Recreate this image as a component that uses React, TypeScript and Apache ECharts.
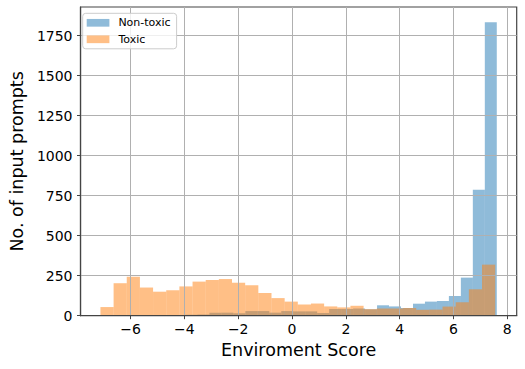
import React, { useEffect, useRef } from "react";
import * as echarts from "echarts";

// Histogram bins (equal-width)
const nonToxicStart = -5.74;
const nonToxicWidth = 0.445;
const nonToxicCounts = [
  2, 1, 2, 3, 6, 7, 18, 19, 15, 29, 29, 19, 29, 27, 27, 17, 42, 42, 45, 40,
  65, 58, 48, 75, 88, 92, 123, 238, 787, 1834,
];

const toxicStart = -7.12;
const toxicWidth = 0.489;
const toxicCounts = [
  54, 203, 244, 176, 150, 159, 183, 213, 223, 229, 206, 190, 142, 110, 88, 70,
  76, 58, 52, 62, 41, 45, 45, 48, 37, 38, 57, 84, 165, 319,
];

const xTicks = [-6, -4, -2, 0, 2, 4, 6, 8];
const yTicks = [0, 250, 500, 750, 1000, 1250, 1500, 1750];
const seriesNames = ["Non-toxic", "Toxic"];
const xLabel = "Enviroment Score";
const yLabel = "No. of input prompts";

function toBins(start: number, width: number, counts: number[]) {
  return counts.map((c, i) => [start + i * width, start + (i + 1) * width, c]);
}

const FONT = "DejaVu Sans";

export default function App() {
  const ref = useRef<HTMLDivElement>(null);
  useEffect(() => {
    if (!ref.current) return;
    const chart = echarts.init(ref.current, undefined, { renderer: "svg" });
    const renderItem = (params: any, api: any) => {
      const p0 = api.coord([api.value(0), api.value(2)]);
      const p1 = api.coord([api.value(1), 0]);
      return {
        type: "rect",
        shape: { x: p0[0], y: p0[1], width: p1[0] - p0[0], height: p1[1] - p0[1] },
        style: { fill: api.visual("color") },
      };
    };
    chart.setOption({
      animation: false,
      textStyle: { fontFamily: FONT },
      grid: {
        left: 76.7,
        right: 8.3,
        top: 7,
        bottom: 53.3,
        show: true,
        borderColor: "#444",
        borderWidth: 1.2,
        backgroundColor: "transparent",
      },
      legend: {
        orient: "vertical",
        left: 82.7,
        top: 13.3,
        data: seriesNames,
        icon: "rect",
        itemWidth: 22.7,
        itemHeight: 7.7,
        itemGap: 5.5,
        padding: [4, 6, 4, 4],
        backgroundColor: "rgba(255,255,255,0.8)",
        borderColor: "#cccccc",
        borderWidth: 1,
        borderRadius: 3,
        textStyle: { fontFamily: FONT, fontSize: 11, color: "#000", padding: [0, 0, 0, 4] },
      },
      xAxis: {
        type: "value",
        min: -7.86,
        max: 8.35,
        name: xLabel,
        nameLocation: "middle",
        nameGap: 25,
        nameTextStyle: { fontFamily: FONT, fontSize: 17.5, color: "#000" },
        axisLine: { show: true, onZero: false, lineStyle: { color: "#444", width: 1.2 } },
        axisTick: { show: true, customValues: xTicks, length: 3.5, lineStyle: { color: "#444" } },
        axisLabel: {
          customValues: xTicks,
          fontFamily: FONT,
          fontSize: 14,
          color: "#000",
          margin: 6,
          formatter: (v: number) => (v < 0 ? "\u2212" + Math.abs(v) : String(v)),
        },
        splitLine: { show: true, lineStyle: { color: "#b0b0b0", width: 1 } },
      },
      yAxis: {
        type: "value",
        min: 0,
        max: 1929,
        name: yLabel,
        nameLocation: "middle",
        nameGap: 53,
        nameTextStyle: { fontFamily: FONT, fontSize: 17.5, color: "#000" },
        axisLine: { show: true, onZero: false, lineStyle: { color: "#444", width: 1.2 } },
        axisTick: { show: true, customValues: yTicks, length: 3.5, lineStyle: { color: "#444" } },
        axisLabel: {
          customValues: yTicks,
          fontFamily: FONT,
          fontSize: 14,
          color: "#000",
          margin: 8,
          formatter: (v: number) => String(v),
        },
        splitLine: { show: true, lineStyle: { color: "#b0b0b0", width: 1 } },
      },
      series: [
        {
          name: seriesNames[0],
          type: "custom",
          z: -1,
          renderItem,
          itemStyle: { color: "rgba(31,119,180,0.5)" },
          encode: { x: [0, 1], y: 2 },
          data: toBins(nonToxicStart, nonToxicWidth, nonToxicCounts),
        },
        {
          name: seriesNames[1],
          type: "custom",
          z: -1,
          renderItem,
          itemStyle: { color: "rgba(255,127,14,0.5)" },
          encode: { x: [0, 1], y: 2 },
          data: toBins(toxicStart, toxicWidth, toxicCounts),
        },
      ],
    });
    return () => chart.dispose();
  }, []);
  return <div ref={ref} style={{ width: 525, height: 369, position: "absolute", left: 0, top: 0 }} />;
}
